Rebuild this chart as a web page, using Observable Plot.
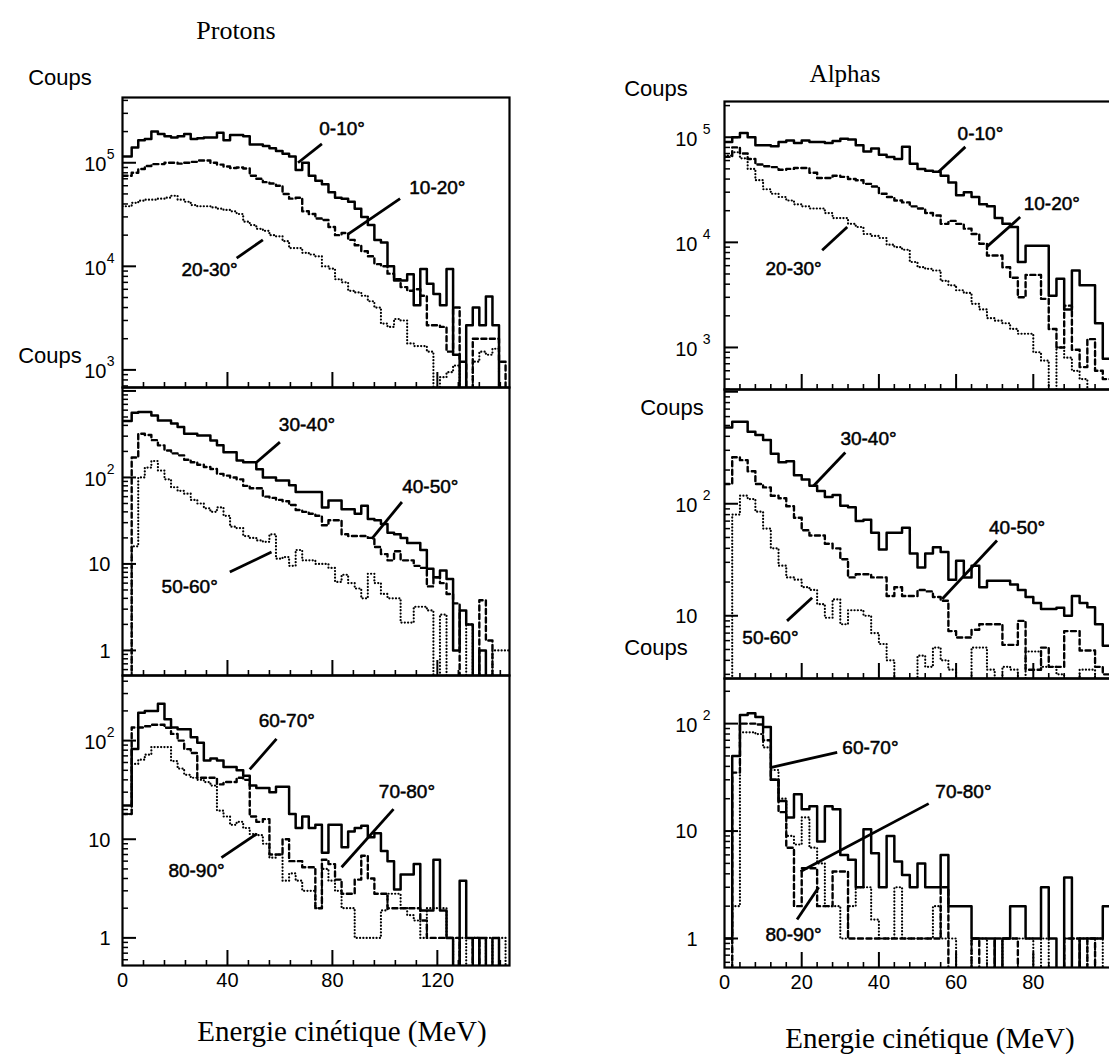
<!DOCTYPE html>
<html><head><meta charset="utf-8">
<script src="https://cdn.jsdelivr.net/npm/d3@7"></script>
<script src="https://cdn.jsdelivr.net/npm/@observablehq/plot@0.6"></script>
<style>
html,body{margin:0;padding:0;background:#fff;overflow:hidden;}
#root{position:relative;width:1109px;height:1055px;overflow:hidden;background:#fff;}
.lbl{position:absolute;white-space:nowrap;color:#000;transform:translate(-50%,-50%);line-height:1;}
</style></head><body><div id="root"></div>
<script>
// ---------------- DATA ----------------
// Proton histograms: bin width 2.5 MeV, first bin from 0 to 3.5 MeV
const protonBinWidth = 2.5;
const protonFirstEdge = 1.0;
// Alpha histograms: bin width 2 MeV
const alphaBinWidth = 2.0;

const p0_10 = [1.15e5,1.4e5,1.65e5,1.7e5,2.0e5,1.9e5,1.8e5,1.75e5,1.8e5,1.9e5,1.7e5,1.72e5,1.75e5,1.75e5,1.95e5,1.65e5,1.85e5,1.85e5,1.8e5,1.5e5,1.5e5,1.45e5,1.38e5,1.3e5,1.22e5,1.15e5,8.5e4,1.0e5,7.5e4,6.7e4,6.2e4,5.2e4,4.6e4,4.5e4,4.2e4,3.6e4,3.0e4,2.5e4,1.8e4,1.7e4,1.0e4,7.3e3,7.3e3,8.4e3,4.2e3,9.4e3,6.8e3,5.4e3,4.2e3,9.4e3,1.4e3,0,2.7e3,4.0e3,2.7e3,5.1e3,2.7e3,0,0];
const p10_20 = [7.5e4,8.0e4,8.7e4,9.3e4,9.7e4,9.7e4,1.0e5,1.0e5,9.8e4,1.0e5,1.02e5,1.05e5,1.05e5,1.0e5,9.6e4,9.2e4,8.9e4,9.0e4,8.8e4,7.5e4,7.0e4,6.5e4,6.3e4,6.0e4,5.0e4,4.5e4,4.6e4,3.4e4,3.2e4,2.9e4,2.8e4,2.4e4,2.0e4,2.1e4,1.8e4,1.6e4,1.4e4,1.25e4,1.05e4,1.0e4,8.5e3,7.5e3,6.3e3,5.8e3,6.0e3,5.2e3,2.7e3,2.7e3,2.6e3,1.5e3,4.0e3,1.2e3,0,2.0e3,2.0e3,2.0e3,2.0e3,1.2e3,0];
const p20_30 = [3.8e4,4.1e4,4.3e4,4.4e4,4.4e4,4.5e4,4.6e4,4.8e4,4.4e4,4.2e4,3.9e4,3.8e4,3.8e4,3.7e4,3.6e4,3.5e4,3.4e4,3.2e4,2.7e4,2.5e4,2.3e4,2.2e4,2.0e4,1.95e4,1.75e4,1.5e4,1.5e4,1.35e4,1.3e4,1.25e4,1.0e4,9.5e3,7.5e3,7.0e3,5.8e3,5.6e3,5.2e3,4.6e3,4.0e3,2.8e3,2.6e3,3.1e3,3.0e3,1.8e3,1.7e3,1.7e3,1.5e3,0,850,950,1.1e3,0,0,1.2e3,1.5e3,1.4e3,1.6e3,0,0];
const p30_40 = [450,560,570,570,520,456,456,420,382,320,320,305,305,268,236,196,196,157,150,150,124,100,100,92,92,81,68,68,68,68,45,54,54,43,43,38,47,33,32,29,23,22,20,17.5,17.5,14.5,8.8,7.0,8.4,6.7,1.0,2.9,2.0,0,1.0,0,0,0,0];
const p40_50 = [0,170,320,310,270,235,205,190,180,160,150,140,132,125,110,105,100,95,80,75,75,60,58,55,53,48,42,40,38,36,28,32,32,22,21,21,21,20,15.7,13,11,14,11,11,9.5,9,5.5,7,6,4.5,3.5,0,0,0,3.8,1.3,0,0,0];
const p50_60 = [0,16,100,130,155,120,95,77,70,65,55,50,44,40,45,36,27,26,21,20,18.7,18,22,11.5,12,9.5,14.5,11,11,10,10,9,6.2,7.5,6.0,5.2,4.0,7.7,6.0,4.5,4.0,4.0,2.1,2.1,3.2,3.2,2.9,0,2.6,0,0,0,2.0,0,0,0,1.0,1.0,1.0];
const p60_70 = [22,82,192,200,200,236,165,136,130,130,108,95,63,66,63,54,54,50,44,35,33,33,30,34,34,18,13,17,13,14,7.3,14,14,8.3,12,13,13.7,10.5,11.5,7.6,6,3.1,4.4,4.4,5.6,1.9,1.9,6.2,1.9,1.0,0,3.8,1.0,0,1.0,0,1.0,0,0];
const p70_80 = [18,136,136,140,145,145,135,117,100,82,75,42,42,42,36,38,38,42,40,17,15,16,7,7,10,6,6,5.2,5.2,2.0,6.2,5.6,3.9,2.8,2.8,3.9,6.8,4.0,2.8,2.8,2.0,2.0,2.0,2.0,2.0,1.5,1.0,1.0,1.0,1.0,1.0,0,0,1.0,0,0,0,0,0];
const p80_90 = [18,58,64,72,86,86,86,62,52,45,42,40,38,35,19.5,17,14,15,13,11.3,11,9,6.5,7,3.8,4.5,3.8,3.0,3.0,2.0,5.0,3.8,3.0,2.0,2.0,1.0,1.0,1.0,1.0,1.9,2.8,2.8,2.0,1.7,1.5,1.0,2.0,2.0,2.0,1.0,0,1.0,0,1.0,0,1.0,0,1.0,0];

const a0_10 = [9.0e4,1.0e5,1.1e5,1.0e5,8.4e4,8.4e4,8.2e4,9.0e4,9.3e4,8.8e4,9.3e4,9.0e4,9.0e4,8.8e4,9.2e4,9.7e4,9.5e4,8.4e4,7.3e4,7.8e4,6.8e4,6.5e4,6.2e4,8.1e4,5.6e4,5.0e4,4.8e4,4.7e4,4.3e4,3.7e4,2.8e4,3.0e4,2.7e4,2.3e4,2.2e4,1.7e4,1.5e4,1.4e4,6.5e3,9.3e3,9.3e3,9.3e3,3.1e3,4.5e3,2.3e3,5.4e3,3.9e3,3.9e3,1.7e3,780];
const a10_20 = [6.5e4,8.0e4,7.0e4,6.2e4,5.5e4,5.3e4,5.2e4,4.9e4,5.0e4,5.1e4,5.1e4,4.6e4,4.1e4,4.1e4,4.3e4,4.2e4,4.0e4,3.9e4,3.6e4,3.4e4,2.9e4,2.7e4,2.5e4,2.4e4,2.2e4,2.1e4,1.9e4,1.8e4,1.5e4,1.6e4,1.5e4,1.35e4,1.2e4,9.7e3,7.5e3,7.5e3,5.8e3,4.6e3,3.0e3,4.9e3,4.9e3,2.9e3,1.5e3,1.0e3,2.5e3,950,650,1.2e3,600,500];
const a20_30 = [6.7e4,7.2e4,6.3e4,5.0e4,3.9e4,3.2e4,2.9e4,2.7e4,2.5e4,2.3e4,2.2e4,2.1e4,2.1e4,1.9e4,1.7e4,1.7e4,1.5e4,1.4e4,1.2e4,1.15e4,1.1e4,9.5e3,9.0e3,8.5e3,6.5e3,5.8e3,5.6e3,5.4e3,4.3e3,3.9e3,3.5e3,3.3e3,2.6e3,2.3e3,1.9e3,1.8e3,1.7e3,1.5e3,1.35e3,1.35e3,900,750,0,1.0e3,800,600,500,0,0,0];
const a30_40 = [480,540,540,440,410,370,280,235,240,180,165,145,130,115,120,96,93,70,72,55,39,55,55,61,36,27,36,41,37,21,31,22,28,18,20.5,20.5,20.5,19,17,14.7,13,11.5,11.5,11.8,10,15,13,11.9,8.4,5.4];
const a40_50 = [150,260,245,195,150,140,118,112,95,75,58,52,52,44,40,32,22,23.5,23.5,22,22,15,18,15,15,17,16.5,14.7,13.6,7.3,6.4,6.4,7.5,8.4,8.4,8.4,5.5,5.5,9,3.3,3.3,5.2,3.5,3.5,7.3,7.3,4.9,4.9,3.5,3.0];
const a50_60 = [0,80,118,110,85,60,40,28,22,21,18,17,12.7,9.6,14,8.4,11.2,11.2,10,7,5.6,4.0,0,0,0,4.4,3.5,5.2,4.0,3.3,0,0,5.2,5.2,3.3,0,3.5,3.3,0,4.8,4.8,3.5,3.5,3.0,0,0,3.3,3.3,0,0];
const a60_70 = [1.0,50,120,125,115,93,30,19,13.4,22,16,17,8,17,16,6,5.4,3,10.4,6.2,3,9,5.2,3.9,3,5,3,3,6,2,2,2,1,1,1,0,1,2,2,1,1,3,1,0,3.7,0,1,1,1,2];
const a70_80 = [0,35,100,100,98,70,30,15,7,2,4.5,4.5,2,2,4.2,4.2,1,1,1,1,1,1,1,1,1,1,1,1,3,0,0,0,1,0,0,1,1,1,0,0,0,0,0,0,1,1,0,1,0,0];
const a80_90 = [0,2,83,83,80,60,37,20,9,7.5,13.4,7,5,2,2,1,2,3,3,1.5,1,1,3,1,1,1,1,2,1,1,0,0,1,1,0,0,1,1,1,1,0,1,0,0,1,1,1,0,1,0];

// tick labels
const protonXLabels = [0, 40, 80, 120];
const alphaXLabels = [0, 20, 40, 60, 80];
const yLabTop = [{v:1e5, base:"10", exp:"5"}, {v:1e4, base:"10", exp:"4"}, {v:1e3, base:"10", exp:"3"}];
const yLabLow = [{v:100, base:"10", exp:"2"}, {v:10, base:"10", exp:""}, {v:1, base:"1", exp:""}];
const yLabAlphaMid = [{v:100, base:"10", exp:"2"}, {v:10, base:"10", exp:""}];

// curve labels (angle ranges) with leader lines, in data units
const annLT = [{label:"0-10°", tx:83.7, ty:2.1e5, x1:76.0, y1:1.52e5, x2:66.9, y2:1.0e5},
               {label:"10-20°", tx:120, ty:5.7e4, x1:105.8, y1:4.5e4, x2:86, y2:2.05e4},
               {label:"20-30°", tx:33.2, ty:9.3e3, x1:43.5, y1:1.2e4, x2:53.5, y2:1.8e4}];
const annLM = [{label:"30-40°", tx:70.3, ty:400, x1:60, y1:256, x2:51.1, y2:150},
               {label:"40-50°", tx:117.3, ty:77, x1:106.5, y1:52, x2:95, y2:19.5},
               {label:"50-60°", tx:25.6, ty:5.4, x1:40.9, y1:8.05, x2:56.8, y2:13.7}];
const annLB = [{label:"60-70°", tx:62.6, ty:159, x1:58.7, y1:104, x2:48.5, y2:51},
               {label:"70-80°", tx:108.4, ty:30, x1:103.3, y1:20.2, x2:83.5, y2:5.2},
               {label:"80-90°", tx:28.2, ty:4.8, x1:37.7, y1:6.5, x2:51.1, y2:11.3}];
const annRT = [{label:"0-10°", tx:66.3, ty:1.08e5, x1:62.4, y1:8.1e4, x2:55.5, y2:4.7e4},
               {label:"10-20°", tx:84.8, ty:2.3e4, x1:76.6, y1:1.74e4, x2:68, y2:9.1e3},
               {label:"20-30°", tx:17.9, ty:5.6e3, x1:25.3, y1:8.4e3, x2:31.8, y2:1.4e4}];
const annRM = [{label:"30-40°", tx:37.3, ty:378, x1:31.3, y1:287, x2:23.1, y2:145},
               {label:"40-50°", tx:75.8, ty:61, x1:70.6, y1:47, x2:56.4, y2:14.1},
               {label:"50-60°", tx:11.9, ty:6.3, x1:16.2, y1:9, x2:22.7, y2:14.5}];
const annRB = [{label:"60-70°", tx:37.8, ty:60, x1:29.2, y1:54, x2:11.9, y2:39},
               {label:"70-80°", tx:61.9, ty:23, x1:52.9, y1:18, x2:19.7, y2:4.2},
               {label:"80-90°", tx:17.9, ty:1.07, x1:18.8, y1:1.5, x2:24.4, y2:3.0}];

// ---------------- DRAWING ----------------
const root = document.getElementById("root");
const sansFont = '"Liberation Sans", Arial, Helvetica, sans-serif';
const serifFont = '"Liberation Serif", "Times New Roman", serif';

const protonEdges = d3.range(60).map(i => i === 0 ? 0 : protonFirstEdge + protonBinWidth * i);
const alphaEdges = d3.range(51).map(i => alphaBinWidth * i);

const styles = {
  solid: {strokeWidth: 2.5},
  dashed: {strokeWidth: 2.4, strokeDasharray: "5,3.5"},
  dotted: {strokeWidth: 2.2, strokeDasharray: "0.1,3.2", strokeLinecap: "round"}
};

function stepPoints(values, edges, floor) {
  const pts = values.map((v, i) => ({x: edges[i], y: v > 0 ? v : floor}));
  const last = values[values.length - 1];
  pts.push({x: edges[values.length], y: last > 0 ? last : floor});
  return pts;
}

function makePanel(cfg) {
  const mL = 110, mR = 6, mT = 6, mB = cfg.xLabels ? 56 : 6;
  const width = mL + cfg.frameW + mR, height = mT + cfg.frameH + mB;
  const floor = cfg.ydom[0] / 100;
  const lo = Math.log10(cfg.ydom[0]), hi = Math.log10(cfg.ydom[1]);
  const majors = [], minors = [];
  for (let d = Math.floor(lo); d <= Math.ceil(hi); d++) {
    const m = 10 ** d;
    if (m >= cfg.ydom[0] && m <= cfg.ydom[1]) majors.push(m);
    for (let k = 2; k <= 9; k++) { const v = k * m; if (v >= cfg.ydom[0] && v <= cfg.ydom[1]) minors.push(v); }
  }
  const xMaj = d3.range(cfg.xMajor, cfg.xmax - 0.01, cfg.xMajor);
  const xMin = d3.range(cfg.xMinor, cfg.xmax - 0.01, cfg.xMinor).filter(v => Math.abs(v / cfg.xMajor - Math.round(v / cfg.xMajor)) > 1e-6);
  const marks = [
    Plot.tickY(majors, {y: d => d, insetRight: cfg.frameW - 14, strokeWidth: 2}),
    Plot.tickY(minors, {y: d => d, insetRight: cfg.frameW - 6, strokeWidth: 1.5}),
    Plot.tickX(xMaj, {x: d => d, insetTop: cfg.frameH - 15, strokeWidth: 2}),
    Plot.tickX(xMin, {x: d => d, insetTop: cfg.frameH - 5, strokeWidth: 1.6}),
  ];
  for (const [vals, kind] of cfg.series) {
    marks.push(Plot.line(stepPoints(vals, cfg.edges, floor), {x: "x", y: "y", curve: "step-after", stroke: "black", clip: true, ...styles[kind]}));
  }
  marks.push(Plot.link(cfg.ann, {x1: "x1", y1: "y1", x2: "x2", y2: "y2", stroke: "black", strokeWidth: 2.8}));
  marks.push(Plot.text(cfg.ann, {x: "tx", y: "ty", text: "label", fontSize: 19, fontFamily: sansFont, fill: "black", stroke: "black", strokeWidth: 0.5, letterSpacing: "-0.6px"}));
  marks.push(Plot.frame({stroke: "black", strokeWidth: 2.2}));
  // y tick labels
  const withExp = cfg.yLabels.filter(d => d.exp);
  marks.push(Plot.text(withExp, {y: "v", frameAnchor: "left", text: "base", textAnchor: "end", dx: cfg.baseDx, dy: 2, fontSize: 20, fontFamily: sansFont, fill: "black"}));
  marks.push(Plot.text(withExp, {y: "v", frameAnchor: "left", text: "exp", textAnchor: "end", dx: cfg.expDx, dy: -8, fontSize: 14, fontFamily: sansFont, fill: "black"}));
  marks.push(Plot.text(cfg.yLabels.filter(d => !d.exp), {y: "v", frameAnchor: "left", text: "base", textAnchor: "end", dx: cfg.plainDx, dy: 1, fontSize: 20, fontFamily: sansFont, fill: "black"}));
  if (cfg.xLabels) {
    marks.push(Plot.text(cfg.xLabels, {x: d => d, frameAnchor: "bottom", dy: 21, text: d => String(d), fontSize: 20, fontFamily: sansFont, fill: "black"}));
  }
  const svg = Plot.plot({
    width, height, marginLeft: mL, marginRight: mR, marginTop: mT, marginBottom: mB,
    x: {domain: [0, cfg.xmax], axis: null},
    y: {type: "log", domain: cfg.ydom, axis: null},
    style: {background: "transparent", overflow: "visible", maxWidth: "none", fontFamily: sansFont},
    marks
  });
  svg.style.position = "absolute";
  svg.style.left = (cfg.frameLeft - mL) + "px";
  svg.style.top = (cfg.frameTop - mT) + "px";
  root.appendChild(svg);
}

const L = {frameLeft: 122, frameW: 387, xmax: 147.5, xMajor: 40, xMinor: 8, edges: protonEdges, baseDx: -16, expDx: -8, plainDx: -12};
const R = {frameLeft: 724, frameW: 386, xmax: 100, xMajor: 20, xMinor: 4, edges: alphaEdges, baseDx: -27, expDx: -14, plainDx: -27};

makePanel({...L, frameTop: 97, frameH: 290, ydom: [10 ** 2.83, 10 ** 5.63],
  series: [[p0_10, "solid"], [p10_20, "dashed"], [p20_30, "dotted"]], ann: annLT, yLabels: yLabTop});
makePanel({...L, frameTop: 387, frameH: 288, ydom: [10 ** -0.29, 10 ** 3.04],
  series: [[p30_40, "solid"], [p40_50, "dashed"], [p50_60, "dotted"]], ann: annLM, yLabels: yLabLow});
makePanel({...L, frameTop: 675, frameH: 290, ydom: [10 ** -0.28, 10 ** 2.66],
  series: [[p60_70, "solid"], [p70_80, "dashed"], [p80_90, "dotted"]], ann: annLB, yLabels: yLabLow, xLabels: protonXLabels});

makePanel({...R, frameTop: 101, frameH: 288, ydom: [10 ** 2.6, 10 ** 5.34],
  series: [[a0_10, "solid"], [a10_20, "dashed"], [a20_30, "dotted"]], ann: annRT, yLabels: yLabTop});
makePanel({...R, frameTop: 389, frameH: 289, ydom: [10 ** 0.44, 10 ** 3.02],
  series: [[a30_40, "solid"], [a40_50, "dashed"], [a50_60, "dotted"]], ann: annRM, yLabels: yLabAlphaMid});
makePanel({...R, frameTop: 678, frameH: 289, ydom: [10 ** -0.27, 10 ** 2.42],
  series: [[a60_70, "solid"], [a70_80, "dashed"], [a80_90, "dotted"]], ann: annRB, yLabels: yLabLow, xLabels: alphaXLabels});

// titles and axis names
const texts = [
  {t: "Protons", x: 236, y: 31, font: serifFont, size: 26},
  {t: "Alphas", x: 845, y: 73, font: serifFont, size: 25},
  {t: "Coups", x: 60, y: 78, font: sansFont, size: 22},
  {t: "Coups", x: 50, y: 356, font: sansFont, size: 22},
  {t: "Coups", x: 656, y: 89, font: sansFont, size: 22},
  {t: "Coups", x: 672, y: 408, font: sansFont, size: 22},
  {t: "Coups", x: 656, y: 648, font: sansFont, size: 22},
  {t: "Energie cinétique (MeV)", x: 342, y: 1031, font: serifFont, size: 29},
  {t: "Energie cinétique (MeV)", x: 930, y: 1038, font: serifFont, size: 29},
];
for (const d of texts) {
  const el = document.createElement("div");
  el.className = "lbl";
  el.textContent = d.t;
  el.style.left = d.x + "px"; el.style.top = d.y + "px";
  el.style.fontFamily = d.font; el.style.fontSize = d.size + "px";
  root.appendChild(el);
}
</script></body></html>
